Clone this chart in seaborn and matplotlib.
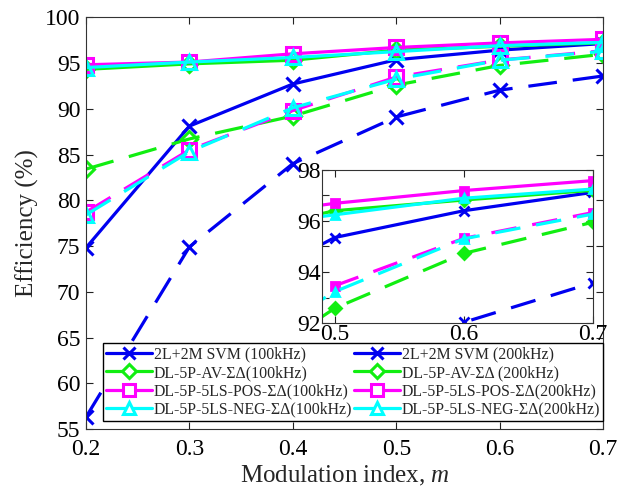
import matplotlib
matplotlib.use("Agg")
import matplotlib.pyplot as plt
import seaborn as sns
import pandas as pd
from matplotlib.lines import Line2D

# ---------------- data ----------------
m = [0.2, 0.3, 0.4, 0.5, 0.6, 0.7]
svm100 = [74.8, 88.1, 92.7, 95.35, 96.40, 97.12]
svm200 = [56.3, 74.9, 84.0, 89.1, 92.03, 93.58]
av100 = [94.3, 94.9, 95.3, 96.40, 96.82, 97.20]
av200 = [83.4, 86.7, 89.2, 92.58, 94.73, 95.95]
pos100 = [94.8, 95.1, 96.0, 96.69, 97.19, 97.58]
pos200 = [78.7, 85.5, 89.8, 93.46, 95.32, 96.33]
neg100 = [94.5, 95.1, 95.6, 96.24, 96.89, 97.25]
neg200 = [78.4, 85.3, 90.1, 93.23, 95.30, 96.27]

labels100 = ["2L+2M SVM (100kHz)", "DL-5P-AV-ΣΔ(100kHz)",
             "DL-5P-5LS-POS-ΣΔ(100kHz)", "DL-5P-5LS-NEG-ΣΔ(100kHz)"]
labels200 = ["2L+2M SVM (200kHz)", "DL-5P-AV-ΣΔ (200kHz)",
             "DL-5P-5LS-POS-ΣΔ(200kHz)", "DL-5P-5LS-NEG-ΣΔ(200kHz)"]
main_yticks = [55, 60, 65, 70, 75, 80, 85, 90, 95, 100]
xticks = [0.2, 0.3, 0.4, 0.5, 0.6, 0.7]
inset_xticks = [0.5, 0.6, 0.7]
inset_yticks = [92, 94, 96, 98]

# ---------------- style ----------------
sns.set_style("ticks")
plt.rcParams["font.family"] = ["Liberation Serif", "DejaVu Serif"]
plt.rcParams["mathtext.fontset"] = "custom"
plt.rcParams["mathtext.it"] = "Liberation Serif:italic"
plt.rcParams["mathtext.rm"] = "Liberation Serif"
plt.rcParams["xtick.direction"] = "in"
plt.rcParams["ytick.direction"] = "in"

BLUE = "#0000f0"
GREEN = "#11ee11"
MAG = "#ff00ff"
CYAN = "#00ffff"

series = [
    (svm100, BLUE, "x", "solid"),
    (svm200, BLUE, "x", "dashed"),
    (av100, GREEN, "D", "solid"),
    (av200, GREEN, "D", "dashed"),
    (pos100, MAG, "s", "solid"),
    (pos200, MAG, "s", "dashed"),
    (neg100, CYAN, "^", "solid"),
    (neg200, CYAN, "^", "dashed"),
]

fig = plt.figure(figsize=(6.41, 4.91), dpi=100)
ax = fig.add_axes([0.134, 0.126, 0.807, 0.839])

for vals, col, mk, ls in series:
    df = pd.DataFrame({"m": m, "eff": vals})
    msize = 10 if mk != "D" else 8
    sns.lineplot(data=df, x="m", y="eff", ax=ax, color=col, marker=mk,
                 markersize=msize, markerfacecolor="none" if mk != "x" else col,
                 markeredgecolor=col, markeredgewidth=2.2, linewidth=2.3,
                 legend=False)
    line = ax.lines[-1]
    if ls == "dashed":
        line.set_dashes((9, 5))

ax.set_xlim(0.2, 0.7)
ax.set_ylim(55, 100)
ax.set_xticks(xticks)
ax.set_xticklabels([f"{t:g}" for t in xticks])
ax.set_yticks(main_yticks)
ax.tick_params(labelsize=17, top=True, right=True, length=5, width=0.8,
               colors="#222222", labelcolor="black")
ax.tick_params(axis="x", pad=7)
ax.tick_params(axis="y", pad=4)
for s in ax.spines.values():
    s.set_linewidth(0.8)
    s.set_color("#333333")
ax.set_xlabel("Modulation index, $m$", fontsize=18, labelpad=3)
ax.set_ylabel("Efficiency (%)", fontsize=18, labelpad=4)

# legend
handles = []
for vals, col, mk, ls in series[0::2] + series[1::2]:
    handles.append(Line2D([0], [0], color=col, lw=2.3, marker=mk,
                          markersize=9 if mk != "D" else 7,
                          markerfacecolor="white" if mk != "x" else col,
                          markeredgecolor=col, markeredgewidth=2.2))
leg = ax.legend(handles, labels100 + labels200, ncol=2, loc="lower right",
                bbox_to_anchor=(1.0, 0.02), fontsize=11.4, frameon=True,
                fancybox=False, edgecolor="black", framealpha=1,
                handlelength=2.9, handletextpad=0.1, columnspacing=0.1,
                labelspacing=0.15, borderpad=0.2, borderaxespad=0.0)
leg.get_frame().set_linewidth(1.0)
leg.set_zorder(10)

# inset
axi = fig.add_axes([0.502, 0.342, 0.423, 0.312])
axi.set_facecolor("white")
for vals, col, mk, ls in series:
    df = pd.DataFrame({"m": m, "eff": vals})
    sns.lineplot(data=df, x="m", y="eff", ax=axi, color=col, marker=mk,
                 markersize=6 if mk != "x" else 7, markerfacecolor=col,
                 markeredgecolor=col, markeredgewidth=2.0, linewidth=2.3,
                 legend=False)
    line = axi.lines[-1]
    if ls == "dashed":
        line.set_dashes((8, 5))
axi.set_xlim(0.49, 0.7)
axi.set_ylim(92, 98)
axi.set_xticks(inset_xticks)
axi.set_xticklabels([f"{t:g}" for t in inset_xticks])
axi.set_yticks(inset_yticks)
axi.set_yticks([93, 95, 97], minor=True)
axi.tick_params(labelsize=17, top=True, right=True, length=5, width=0.8,
                pad=1, colors="#222222", labelcolor="black")
axi.tick_params(which="minor", top=False, right=True, left=True, length=5,
                width=0.8, direction="in")
axi.set_xlabel("")
axi.set_ylabel("")
for s in axi.spines.values():
    s.set_linewidth(0.8)
    s.set_color("#333333")

fig.savefig("out.png", dpi=100)
